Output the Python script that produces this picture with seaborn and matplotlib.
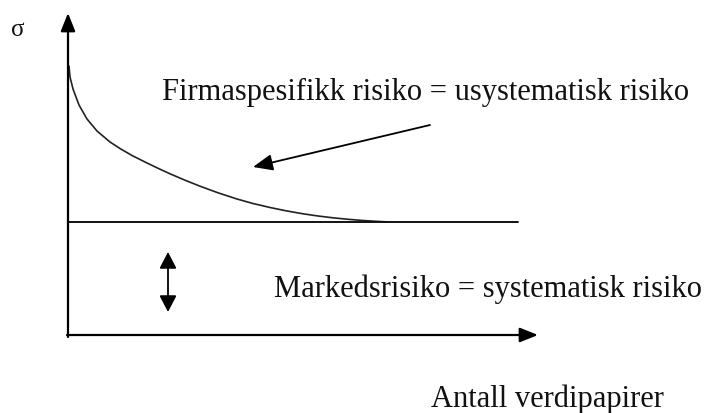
import matplotlib
matplotlib.use('Agg')
import matplotlib.pyplot as plt
import seaborn as sns
import pandas as pd

# curve (units: number of securities vs sigma, arbitrary scale)
n_securities = [0.1, 0.2, 0.5, 1.1, 1.9, 2.9, 4.2, 5.2, 6.4, 7.7, 8.9, 10.2, 11.7, 13.2, 15.0,
                16.9, 18.5, 20.2, 21.8, 23.5, 25.0, 26.5, 28.0, 29.5, 30.8, 32.2]
sigma = [26.9, 25.8, 24.6, 23.0, 21.6, 20.4, 19.3, 18.65, 17.95, 17.3, 16.72, 16.12, 15.48, 14.88, 14.22,
         13.6, 13.15, 12.75, 12.42, 12.12, 11.9, 11.72, 11.57, 11.45, 11.37, 11.3]
market_x = [0.0, 45.0]
market_sigma = [11.3, 11.3]

label_firm = 'Firmaspesifikk risiko = usystematisk risiko'
label_market = 'Markedsrisiko = systematisk risiko'
label_x = 'Antall verdipapirer'
label_y = 'σ'

sns.set_theme(style='white')
plt.rcParams['font.family'] = ['Liberation Serif', 'DejaVu Serif']

fig = plt.figure(figsize=(7.18, 4.14), dpi=100)
ax = fig.add_axes([0, 0, 1, 1])

curve_df = pd.DataFrame({'n': n_securities, 'sigma': sigma})
market_df = pd.DataFrame({'n': market_x, 'sigma': market_sigma})
sns.lineplot(data=curve_df, x='n', y='sigma', ax=ax, color='#222222', lw=1.2, sort=False)
sns.lineplot(data=market_df, x='n', y='sigma', ax=ax, color='#111111', lw=1.4)

# axes drawn as arrows
arrow_kw = dict(arrowstyle='-|>,head_length=0.55,head_width=0.22', mutation_scale=20,
                color='black', lw=1.6, shrinkA=0, shrinkB=0)
ax.annotate('', xy=(0, 32.2), xytext=(0, -0.2), arrowprops=arrow_kw)
ax.annotate('', xy=(47.0, 0), xytext=(-0.1, 0), arrowprops=arrow_kw)

# pointer to diversifiable risk
ax.annotate('', xy=(18.5, 16.8), xytext=(36.2, 21.0),
            arrowprops=dict(arrowstyle='-|>,head_length=0.6,head_width=0.25', mutation_scale=20,
                            color='black', lw=1.3, shrinkA=0, shrinkB=0))
# double arrow for market risk
ax.annotate('', xy=(10.0, 8.3), xytext=(10.0, 2.3),
            arrowprops=dict(arrowstyle='<|-|>,head_length=0.5,head_width=0.26', mutation_scale=20,
                            color='black', lw=1.3, shrinkA=0, shrinkB=0))

ax.text(35.75, 23.6, label_firm, fontsize=22, ha='center', va='baseline', color='#111111')
ax.text(41.95, 3.9, label_market, fontsize=22, ha='center', va='baseline', color='#111111')
ax.text(47.95, -7.1, label_x, fontsize=22, ha='center', va='baseline', color='#111111')
ax.text(-5.0, 30.0, label_y, fontsize=18, ha='center', va='baseline', color='#111111')

ax.set_xlim(-6.8, 65.0)
ax.set_ylim(-7.8, 33.6)
ax.axis('off')

fig.savefig('out.png', dpi=100)
plt.close(fig)
